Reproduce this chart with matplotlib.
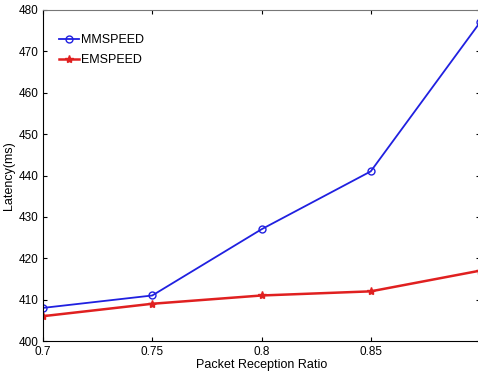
import matplotlib
matplotlib.use("Agg")
import matplotlib.pyplot as plt

# Data
ratio = [0.7, 0.75, 0.8, 0.85, 0.9]
mmspeed = [408, 411, 427, 441, 477]
emspeed = [406, 409, 411, 412, 417]

plt.rcParams['font.family'] = ['Liberation Sans', 'DejaVu Sans']

fig = plt.figure(figsize=(4.78, 3.81), dpi=100)
ax = fig.add_axes([43 / 478, 40 / 381, 437 / 478, 331 / 381])

ax.plot(ratio, mmspeed, color="#2020e0", marker="o", markersize=5,
        markerfacecolor="none", linewidth=1.3, label="MMSPEED")
ax.plot(ratio, emspeed, color="#e02020", marker="*", markersize=6,
        linewidth=1.8, label="EMSPEED")

ax.set_xlim(0.7, 0.9)
ax.set_ylim(400, 480)
ax.set_xticks([0.7, 0.75, 0.8, 0.85])
ax.set_xticklabels(["0.7", "0.75", "0.8", "0.85"])
ax.set_yticks(range(400, 481, 10))
ax.tick_params(direction="in", top=True, right=True, labelsize=8.5, length=3)
ax.set_xlabel("Packet Reception Ratio", fontsize=9, labelpad=1)
ax.set_ylabel("Latency(ms)", fontsize=9, labelpad=2)
for s in ax.spines.values():
    s.set_linewidth(0.8)
ax.spines["top"].set_color("#777777")

ax.legend(loc="upper left", bbox_to_anchor=(0.01, 0.96), frameon=False,
          fontsize=9, handlelength=1.6, handletextpad=0.2, labelspacing=0.6)

fig.savefig("out.png", dpi=100)
